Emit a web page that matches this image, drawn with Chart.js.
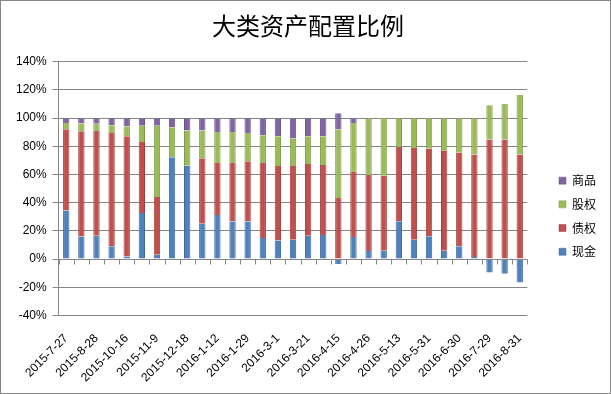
<!DOCTYPE html>
<html>
<head>
<meta charset="utf-8">
<script src="https://cdn.jsdelivr.net/npm/chart.js@4/dist/chart.umd.min.js"></script>
<style>
    html, body { margin: 0; padding: 0; background: #fff; }
    #wrap { width: 611px; height: 394px; box-sizing: border-box; border: 1px solid #878787; position: relative; }
    #chart { display: block; }
</style>
</head>
<body>
<div id="wrap"><canvas id="chart" width="609" height="392"></canvas></div>
<script>
// categories: only every other date is printed on the axis
const categories = [
    "2015-7-27", "", "2015-8-28", "", "2015-10-16", "", "2015-11-9", "", "2015-12-18", "",
    "2016-1-12", "", "2016-1-29", "", "2016-3-1", "", "2016-3-21", "", "2016-4-15", "",
    "2016-4-26", "", "2016-5-13", "", "2016-5-31", "", "2016-6-30", "", "2016-7-29", "",
    "2016-8-31"
];

// series values (%)
const cash = [34.5, 16, 16.5, 9, 1.9, 32.6, 3.1, 72.3, 66.2, 25.1, 31.2, 26.7, 26.7, 14.9, 13.2, 13.7,
    16.5, 17, -3.5, 15.6, 5.7, 5.9, 26.8, 13.7, 16.1, 5.9, 9, 1.4, -9.5, -10.4, -16.6];
const bond = [57.7, 74.7, 74.3, 80.4, 85.3, 50.4, 40.9, 0, 0, 46.5, 36.9, 41.4, 42.8, 53.2, 52.8, 52.3,
    50.9, 49.7, 43.3, 46.1, 53.9, 53.3, 52.8, 65.2, 62.1, 71.4, 66.4, 72.8, 84.8, 84.8, 74.2];
const equity = [4.3, 5.7, 5.2, 5.6, 6.9, 11.6, 50.6, 21.3, 25.1, 19.7, 22, 22, 19.9, 19.8, 21.2, 19.8,
    19.8, 20.5, 48.9, 34.8, 40.4, 40.8, 20.4, 21.1, 21.8, 22.7, 24.6, 25.8, 24.4, 25.2, 42.2];
const commodity = [3.5, 3.5, 4, 5, 5.9, 5.4, 5.4, 6.4, 8.7, 8.7, 9.9, 9.9, 10.6, 12.1, 12.8, 14.2,
    12.8, 12.8, 11.3, 3.5, 0, 0, 0, 0, 0, 0, 0, 0, 0, 0, 0];

// y axis ticks
const yMin = -40;
const yMax = 140;
const yStep = 20;

const GRID = "#868686";

// category tick marks and axis line at 0%
const zeroAxis = {
    id: "zeroAxis",
    afterDatasetsDraw(chart) {
        const { ctx, scales: { x, y } } = chart;
        const y0 = Math.round(y.getPixelForValue(0)) + 0.5;
        const n = categories.length;
        ctx.save();
        ctx.strokeStyle = GRID;
        ctx.lineWidth = 1;
        ctx.beginPath();
        ctx.moveTo(x.left, y0);
        ctx.lineTo(x.right, y0);
        for (let i = 0; i <= n; i++) {
            const px = Math.round(x.left + i * x.width / n) + 0.5;
            ctx.moveTo(px, y0);
            ctx.lineTo(px, y0 + 5);
        }
        ctx.stroke();
        ctx.restore();
    }
};

function series(label, data, color, edge) {
    return {
        label: label,
        data: data,
        backgroundColor: color,
        borderColor: edge,
        borderWidth: { left: 1, right: 1, top: 0, bottom: 0 },
        borderSkipped: false,
        barPercentage: 0.42,
        categoryPercentage: 1.0
    };
}

new Chart(document.getElementById("chart"), {
    type: "bar",
    data: {
        labels: categories,
        datasets: [
            series("现金", cash, "#4F81BD", "#40699A"),
            series("债权", bond, "#C0504D", "#9E413F"),
            series("股权", equity, "#9BBB59", "#7F9A48"),
            series("商品", commodity, "#8064A2", "#695285")
        ]
    },
    options: {
        responsive: false,
        animation: false,
        layout: { padding: { left: 9, right: 4, top: 0, bottom: 0 } },
        plugins: {
            title: {
                display: true,
                text: "大类资产配置比例",
                color: "#000",
                font: { family: "'Noto Sans CJK SC'", size: 24, weight: "normal" },
                padding: { top: 10, bottom: 22 }
            },
            legend: {
                position: "right",
                reverse: true,
                title: { display: true, text: "", padding: { top: 24, bottom: 0 } },
                labels: {
                    color: "#000",
                    font: { family: "'Noto Sans CJK SC'", size: 12 },
                    boxWidth: 7,
                    boxHeight: 7,
                    padding: 11.7
                }
            },
            tooltip: { enabled: false }
        },
        scales: {
            x: {
                stacked: true,
                grid: { display: false },
                border: { display: false },
                ticks: {
                    autoSkip: false,
                    minRotation: 45,
                    maxRotation: 45,
                    color: "#000",
                    font: { family: "'Liberation Sans'", size: 12 },
                    padding: 8
                }
            },
            y: {
                stacked: true,
                min: yMin,
                max: yMax,
                grid: { color: GRID, tickLength: 6 },
                border: { color: GRID },
                ticks: {
                    stepSize: yStep,
                    color: "#000",
                    font: { family: "'Liberation Sans'", size: 12 },
                    padding: 6,
                    callback: v => v + "%"
                }
            },
            // empty axis: keeps a gap between the plot and the legend
            gap: {
                type: "linear",
                position: "right",
                grid: { display: false },
                border: { display: false },
                ticks: { display: false },
                afterFit: s => { s.width = 20; }
            }
        }
    },
    plugins: [zeroAxis]
});
</script>
</body>
</html>
